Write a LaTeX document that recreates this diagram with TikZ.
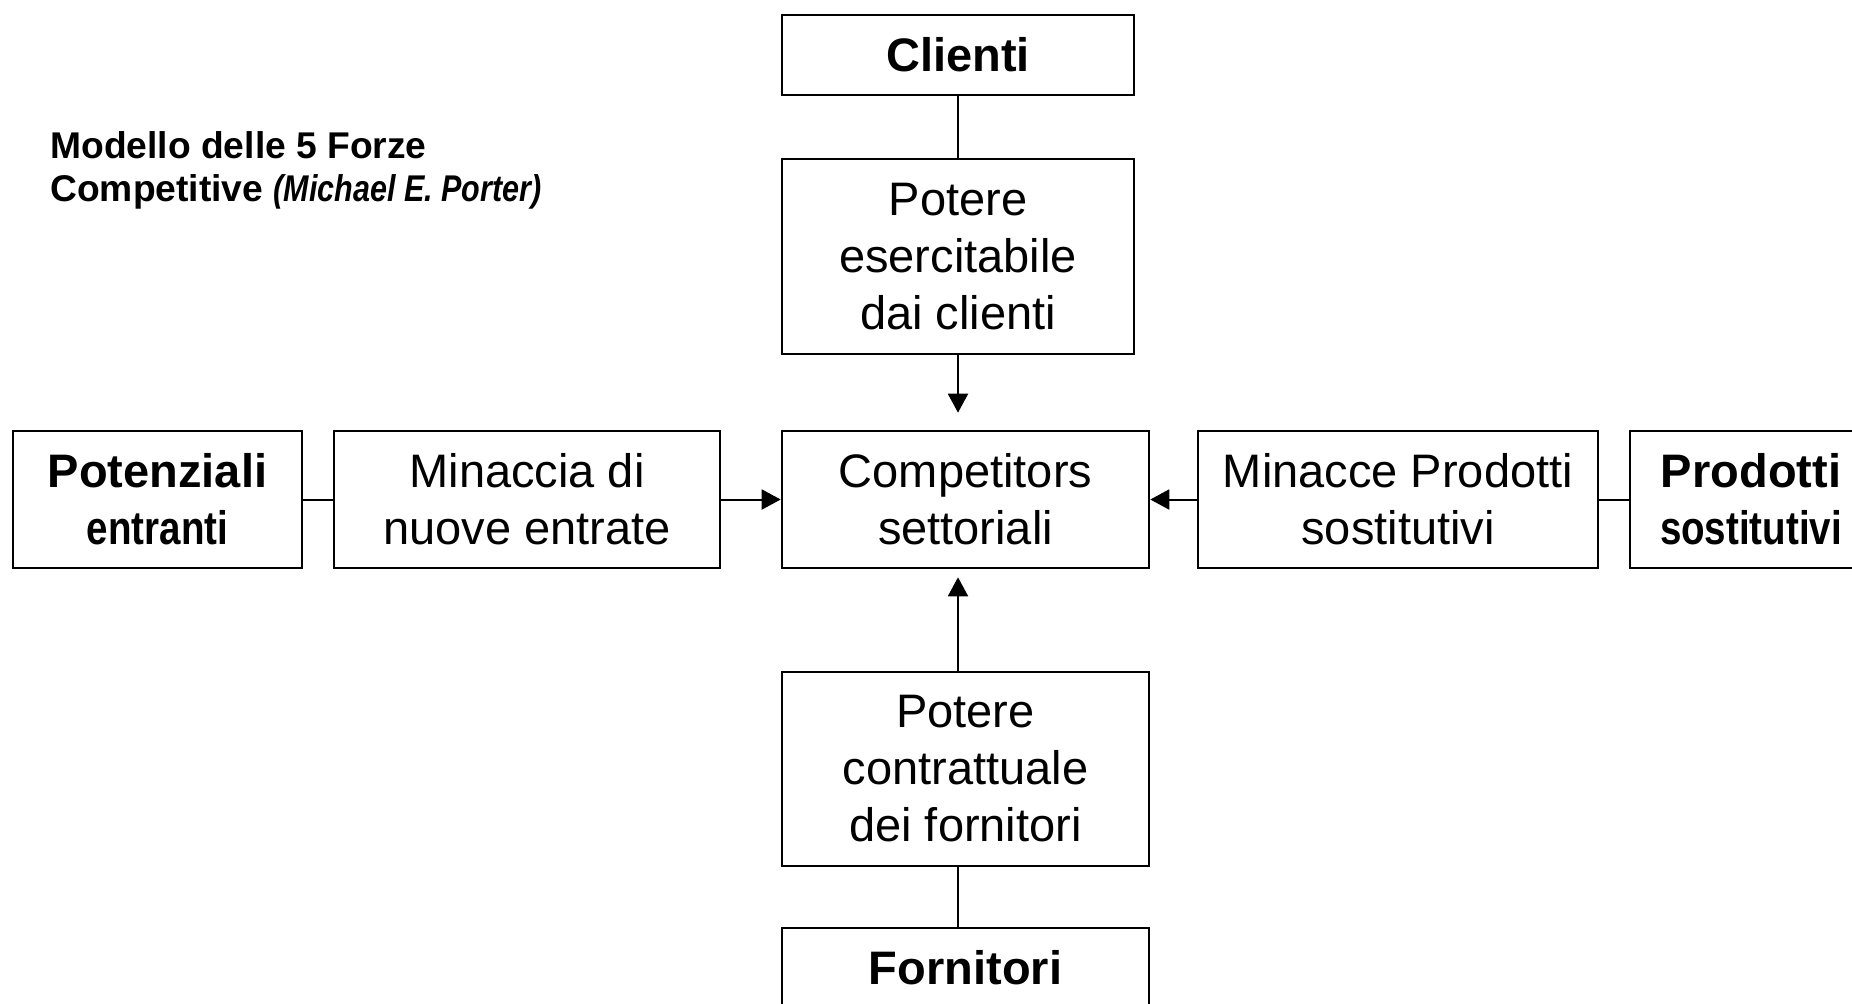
\documentclass[tikz,border=0pt]{standalone}
\usepackage{fontspec}
\setmainfont{Liberation Sans}
\newfontfamily\narrowfont[FakeStretch=0.82]{Liberation Sans}
\usetikzlibrary{arrows.meta}

\begin{document}
\begin{tikzpicture}[x=0.5pt, y=-0.5pt,
    forcebox/.style={draw, line width=1.3pt, inner sep=0pt, align=center,
      font=\fontsize{23.5}{28.5}\selectfont},
    link/.style={line width=1pt},
    push/.style={line width=1pt, -{Triangle[length=9.5pt,width=10pt]}}]
  \useasboundingbox (0,0) rectangle (1852,1003);
  % Title
  \node[anchor=north west, inner sep=0pt, align=left,
    font=\bfseries\fontsize{18.6}{21.5}\selectfont] (title) at (50,131)
    {Modello delle 5 Forze\\Competitive {\narrowfont\itshape(Michael E. Porter)}};
  % Vertical column
  \node[forcebox, minimum width=176pt, minimum height=40pt] (clienti) at (958,55) {\bfseries Clienti};
  \node[forcebox, minimum width=176pt, minimum height=97.5pt] (esercit) at (958,256.5) {Potere\\esercitabile\\dai clienti};
  \node[forcebox, minimum width=183.5pt, minimum height=68.5pt] (compet) at (965.5,499.5) {Competitors\\settoriali};
  \node[forcebox, minimum width=183.5pt, minimum height=97pt] (contratt) at (965.5,769) {Potere\\contrattuale\\dei fornitori};
  \node[forcebox, minimum width=183.5pt, minimum height=40pt] (fornitori) at (965.5,968) {\bfseries Fornitori};
  % Horizontal row
  \node[forcebox, minimum width=144.5pt, minimum height=68.5pt] (potenz) at (157.5,499.5) {\bfseries Potenziali\\{\narrowfont\bfseries entranti}};
  \node[forcebox, minimum width=193pt, minimum height=68.5pt] (minaccia) at (527,499.5) {Minaccia di\\nuove entrate};
  \node[forcebox, minimum width=200pt, minimum height=68.5pt] (minacce) at (1398,499.5) {Minacce Prodotti\\sostitutivi};
  \node[forcebox, minimum width=121pt, minimum height=68.5pt] (prodotti) at (1751,499.5) {\bfseries Prodotti\\{\narrowfont\bfseries sostitutivi}};
  % Connectors
  \draw[link] (clienti) -- (esercit);
  \draw[push, shorten >=8.5pt] (esercit.south) -- (esercit.south |- compet.north);
  \draw[push, shorten >=4pt] (contratt.north -| esercit.south) -- (esercit.south |- compet.south);
  \draw[link] (contratt.south -| clienti) -- (fornitori.north -| clienti);
  \draw[link] (potenz) -- (minaccia);
  \draw[push] (minaccia) -- (compet);
  \draw[push] (minacce) -- (compet);
  \draw[link] (prodotti) -- (minacce);
\end{tikzpicture}
\end{document}
